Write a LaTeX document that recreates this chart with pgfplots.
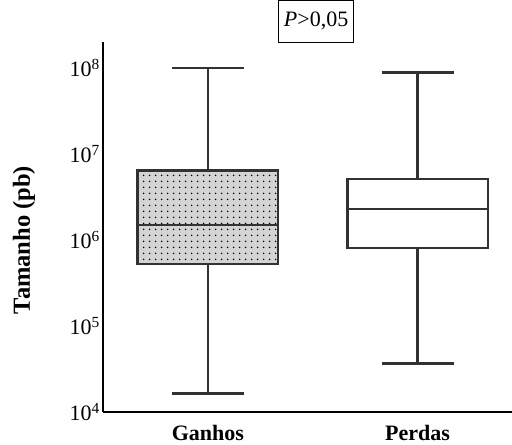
\documentclass[border=0pt]{standalone}
\usepackage{fontspec}
\setmainfont{Liberation Serif}
\usepackage{pgfplots}
\pgfplotsset{compat=1.18}
\usetikzlibrary{patterns.meta}

\definecolor{boxline}{RGB}{50,50,50}
\definecolor{boxfill}{RGB}{212,212,212}

\begin{document}
\begin{tikzpicture}
% fixed canvas around the axis box
\path[use as bounding box] (-103bp,-33bp) rectangle (409bp,412bp);
\begin{axis}[
  at={(0,0)}, anchor=south west,
  scale only axis, width=409bp, height=370bp,
  xmin=0.5, xmax=2.45,
  ymode=log, ymin=1e4, ymax=2e8,
  axis x line=bottom, axis y line=left,
  axis line style={-, line width=2.6bp, black},
  major tick length=0pt, minor tick length=0pt,
  xtick={1,2}, xticklabels={Ganhos,Perdas},
  ytick={1e4,1e5,1e6,1e7,1e8},
  yticklabels={10\textsuperscript{4},10\textsuperscript{5},10\textsuperscript{6},10\textsuperscript{7},10\textsuperscript{8}},
  yticklabel style={font=\fontsize{22bp}{26bp}\selectfont, inner xsep=1bp, xshift=-2bp},
  xticklabel style={font=\bfseries\fontsize{22bp}{26bp}\selectfont, anchor=base, inner sep=0pt, yshift=-29bp},
  ylabel={Tamanho (pb)},
  every axis y label/.style={at={(axis description cs:-0.193,0.465)}, rotate=90, anchor=center,
    font=\bfseries\fontsize{24.5bp}{28bp}\selectfont},
  title={\textit{P}>0,05},
  title style={draw, line width=0.9bp, at={(axis description cs:0.521,1.0405)}, anchor=center,
    font=\fontsize{22bp}{26bp}\selectfont, minimum height=42bp, inner xsep=5bp},
  clip=false,
  cycle list={{boxline, solid, mark=none}},
  every axis plot/.append style={draw=boxline, line width=2.5bp, line join=miter, mark=none},
]
% ---- Ganhos: whiskers 1.63e4 / 1.0e8, quartiles 5.26e5 / 6.4e6, median 1.49e6
\addplot coordinates {(1,5.26e5) (1,1.63e4)};
\addplot coordinates {(0.8285,1.63e4) (1.1715,1.63e4)};
\addplot coordinates {(1,6.4e6) (1,1.0e8)};
\addplot coordinates {(0.8285,1.0e8) (1.1715,1.0e8)};
\addplot[preaction={fill=boxfill}, pattern={Dots[distance=6bp, radius=0.95bp]}, pattern color=black]
  coordinates {(0.6655,5.26e5) (1.3345,5.26e5) (1.3345,6.4e6) (0.6655,6.4e6)} -- cycle;
\addplot coordinates {(0.6655,1.49e6) (1.3345,1.49e6)};
% ---- Perdas: whiskers 3.68e4 / 8.8e7, quartiles 8.07e5 / 5.12e6, median 2.29e6
\addplot coordinates {(2,8.07e5) (2,3.68e4)};
\addplot coordinates {(1.8285,3.68e4) (2.1715,3.68e4)};
\addplot coordinates {(2,5.12e6) (2,8.8e7)};
\addplot coordinates {(1.8285,8.8e7) (2.1715,8.8e7)};
\addplot[fill=white]
  coordinates {(1.6655,8.07e5) (2.3345,8.07e5) (2.3345,5.12e6) (1.6655,5.12e6)} -- cycle;
\addplot coordinates {(1.6655,2.29e6) (2.3345,2.29e6)};
\end{axis}
\end{tikzpicture}
\end{document}
